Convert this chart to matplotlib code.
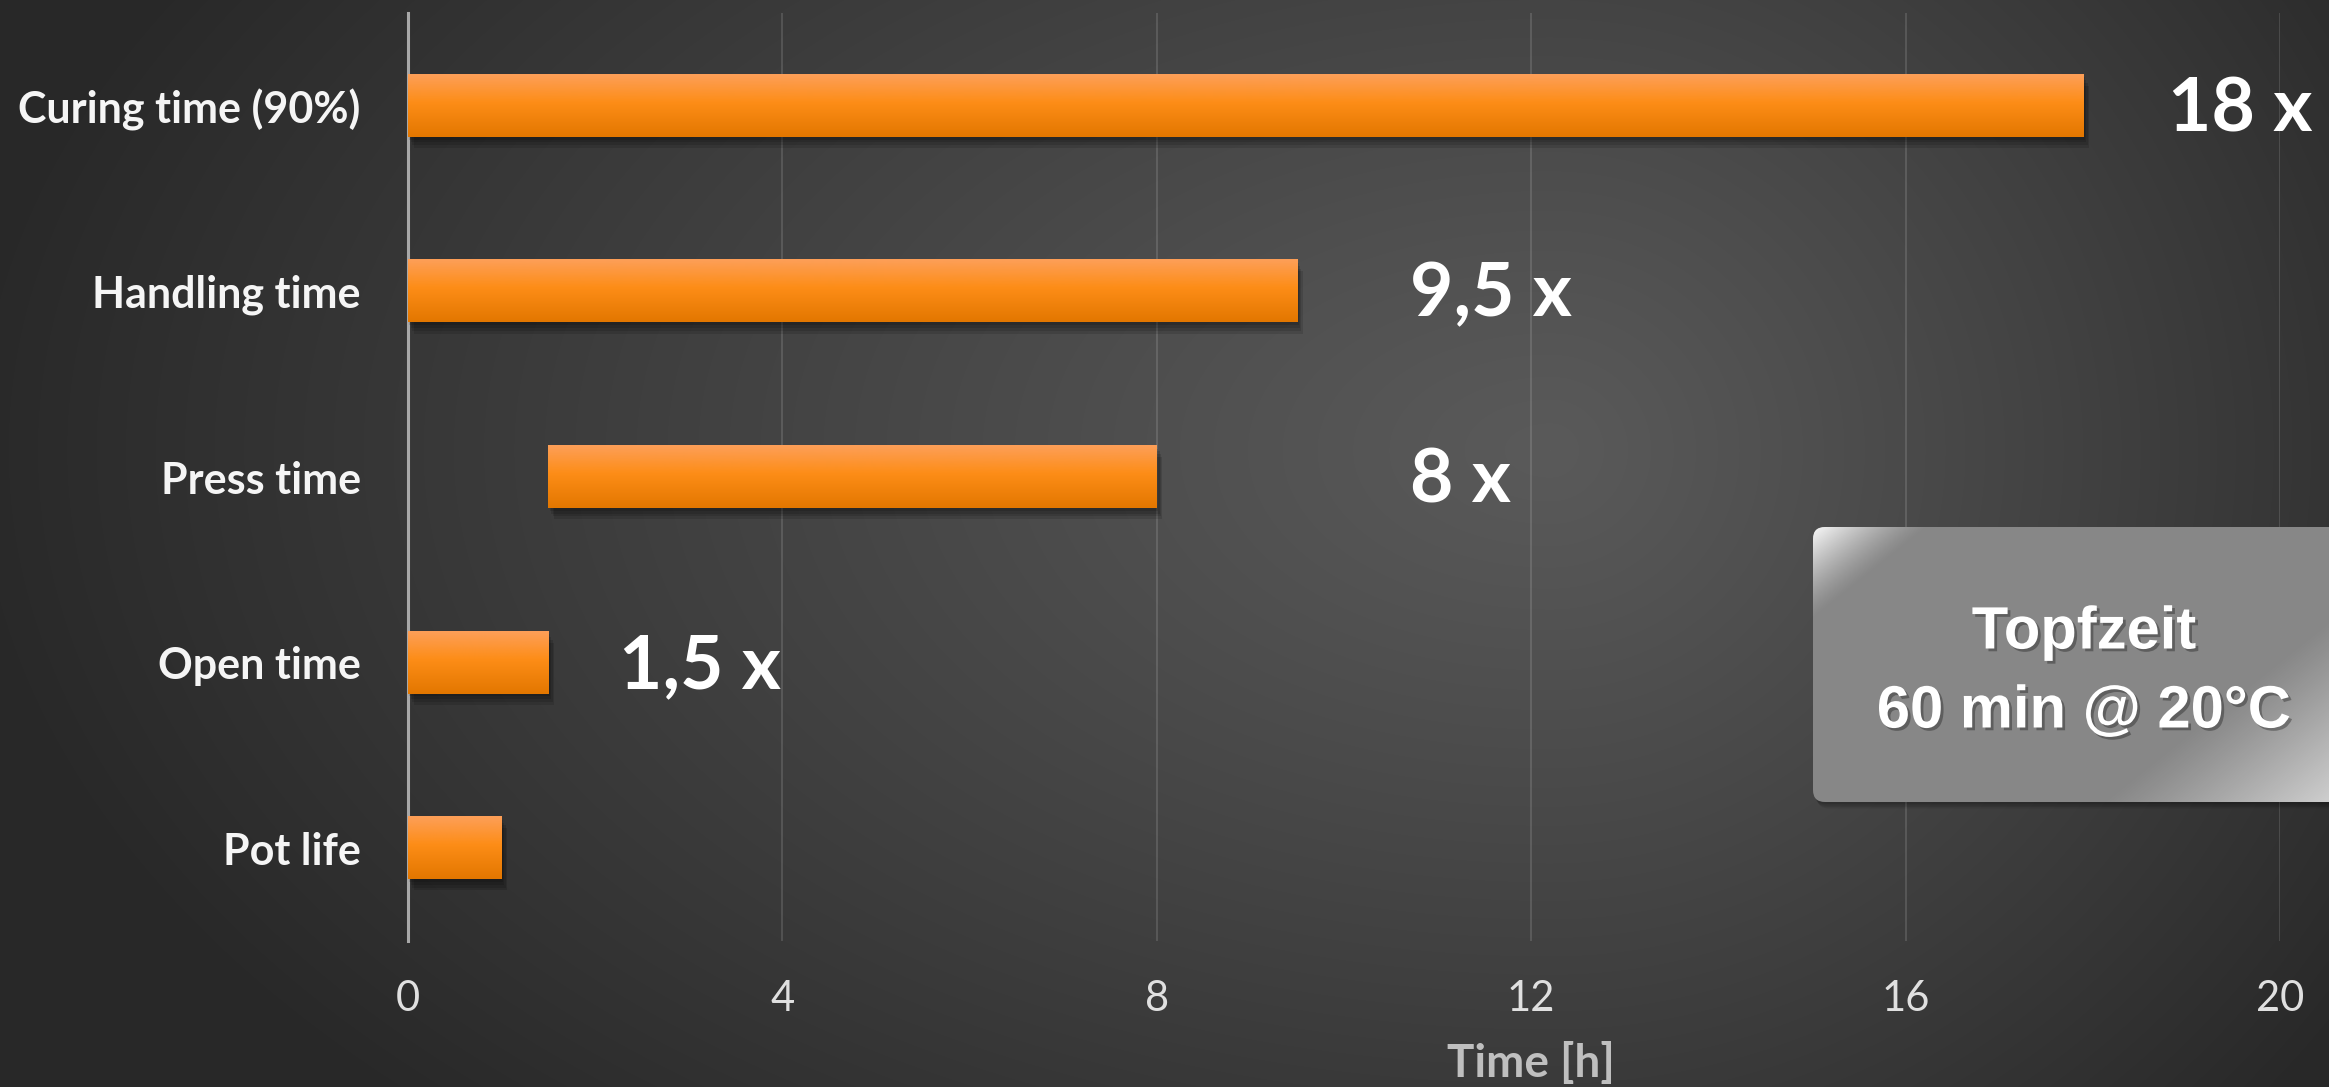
import numpy as np
import matplotlib
matplotlib.use("Agg")
import matplotlib.pyplot as plt
import matplotlib.patheffects as pe
from matplotlib.colors import LinearSegmentedColormap, to_rgb
from matplotlib.patches import FancyBboxPatch

# data
categories = ["Curing time (90%)", "Handling time", "Press time", "Open time", "Pot life"]
starts = [0, 0, 1.5, 0, 0]
ends = [17.9, 9.5, 8, 1.5, 1]
factor_labels = ["18 x", "9,5 x", "8 x", "1,5 x", ""]
label_x = [18.8, 10.7, 10.7, 2.25, 0]
xticks = [0, 4, 8, 12, 16, 20]
box_lines = ["Topfzeit", "60 min @ 20°C"]

W, H = 2329, 1087
fig = plt.figure(figsize=(W / 100, H / 100), dpi=100)

# background radial gradient
bg = fig.add_axes([0, 0, 1, 1], zorder=-2)
yy, xx = np.mgrid[0:H, 0:W]
cx, cy = 1550, 450
rx = np.where(xx < cx, 1600, 1000)
d = np.sqrt(((xx - cx) / rx) ** 2 + ((yy - cy) / 950) ** 2)
d = np.clip(d, 0, 1) ** 1.1
c_in = np.array(to_rgb("#5a5a5a"))
c_out = np.array(to_rgb("#282828"))
img = c_in[None, None, :] * (1 - d[..., None]) + c_out[None, None, :] * d[..., None]
bg.imshow(img, extent=[0, W, H, 0], aspect="auto")
bg.set_xlim(0, W)
bg.set_ylim(H, 0)
bg.axis("off")

# main axes
ax = fig.add_axes([408 / W, 1 - 941 / H, 1872 / W, 928 / H])
ax.set_facecolor("none")

ypos = np.arange(len(categories))
widths = [e - s for s, e in zip(starts, ends)]
soft = [pe.SimplePatchShadow(offset=(1 + i, -2 - 2 * i), shadow_rgbFace="black", alpha=0.12)
        for i in range(4)]
bars = ax.barh(ypos, widths, left=starts, height=0.335, color="#fb8c16", zorder=3,
               path_effects=soft + [pe.Normal()])

# orange vertical gradient on each bar
cmap = LinearSegmentedColormap.from_list("bar", [(0, "#fd9f58"), (0.45, "#fd8d17"), (1, "#e37700")])
grad = np.linspace(0, 1, 64)[:, None]
for b in bars:
    x0, y0, w, h = b.get_x(), b.get_y(), b.get_width(), b.get_height()
    ax.imshow(grad, cmap=cmap, extent=[x0, x0 + w, y0 + h, y0], aspect="auto",
              origin="upper", zorder=4, interpolation="bilinear")

for yv, txt, lx in zip(ypos, factor_labels, label_x):
    if txt:
        ax.text(lx, yv + 0.02, txt, fontsize=54, fontweight="bold", color="white",
                family="Lato", va="center", ha="left", zorder=5)

ax.set_xlim(0, 20)
ax.set_ylim(len(categories) - 0.5, -0.5)
ax.set_xticks(xticks)
ax.set_xticklabels([str(t) for t in xticks], family="Lato", fontsize=30, color="#e0e0e0")
ax.set_yticks(ypos)
ax.set_yticklabels(categories, family="Lato", fontsize=31, fontweight="bold", color="#f5f5f5")
ax.tick_params(axis="both", length=0)
ax.tick_params(axis="x", pad=28)
ax.tick_params(axis="y", pad=34)

ax.grid(axis="x", color="white", alpha=0.13, lw=1.5, zorder=0)
ax.grid(axis="y", visible=False)
for s in ["top", "right", "bottom"]:
    ax.spines[s].set_visible(False)
ax.spines["left"].set_color("#a8a8a8")
ax.spines["left"].set_linewidth(2.2)

ax.set_xlabel("Time [h]", family="Lato", fontsize=33, fontweight="bold", color="#bfbfbf")
ax.xaxis.set_label_coords(0.6, -0.132)
ax.xaxis.label.set_va("center")

# glossy info box
ov = fig.add_axes([0, 0, 1, 1], zorder=5)
ov.set_xlim(0, W)
ov.set_ylim(H, 0)
ov.axis("off")
bx0, by0, bx1, by1 = 1813, 527, 2360, 802
for i in range(4):
    sh = FancyBboxPatch((bx0 + 1 + i, by0 + 2 + 1.5 * i), bx1 - bx0, by1 - by0,
                        boxstyle="round,pad=0,rounding_size=12", fc="black", ec="none",
                        alpha=0.08, zorder=1)
    ov.add_patch(sh)
box = FancyBboxPatch((bx0, by0), bx1 - bx0, by1 - by0,
                     boxstyle="round,pad=0,rounding_size=12", fc="#878787", ec="none", zorder=2)
ov.add_patch(box)

gy, gx = np.mgrid[by0:by1, bx0:bx1]
p = (gx - bx0) + (gy - by0) * 1.25
q = (2329 - gx) + (by1 - gy) * 1.25
a1 = np.clip(1 - p / 115, 0, 1) ** 1.3 * 0.95
a2 = np.clip(1 - q / 230, 0, 1) ** 1.1 * 0.6
alpha = np.clip(a1 + a2, 0, 1)
gl = np.ones((by1 - by0, bx1 - bx0, 4))
gl[..., 3] = alpha
im = ov.imshow(gl, extent=[bx0, bx1, by1, by0], aspect="auto", interpolation="bilinear", zorder=3)
im.set_clip_path(box)
ov.set_xlim(0, W)
ov.set_ylim(H, 0)

txt_fx = [pe.SimplePatchShadow(offset=(2, -2), shadow_rgbFace="black", alpha=0.3), pe.Normal()]
ov.text(2084, 633, box_lines[0], fontsize=43, fontweight="bold", color="white",
        family="Liberation Sans", ha="center", va="center", path_effects=txt_fx, zorder=4)
ov.text(2084, 712, box_lines[1], fontsize=43, fontweight="bold", color="white",
        family="Liberation Sans", ha="center", va="center", path_effects=txt_fx, zorder=4)

fig.savefig("out.png", dpi=100)
